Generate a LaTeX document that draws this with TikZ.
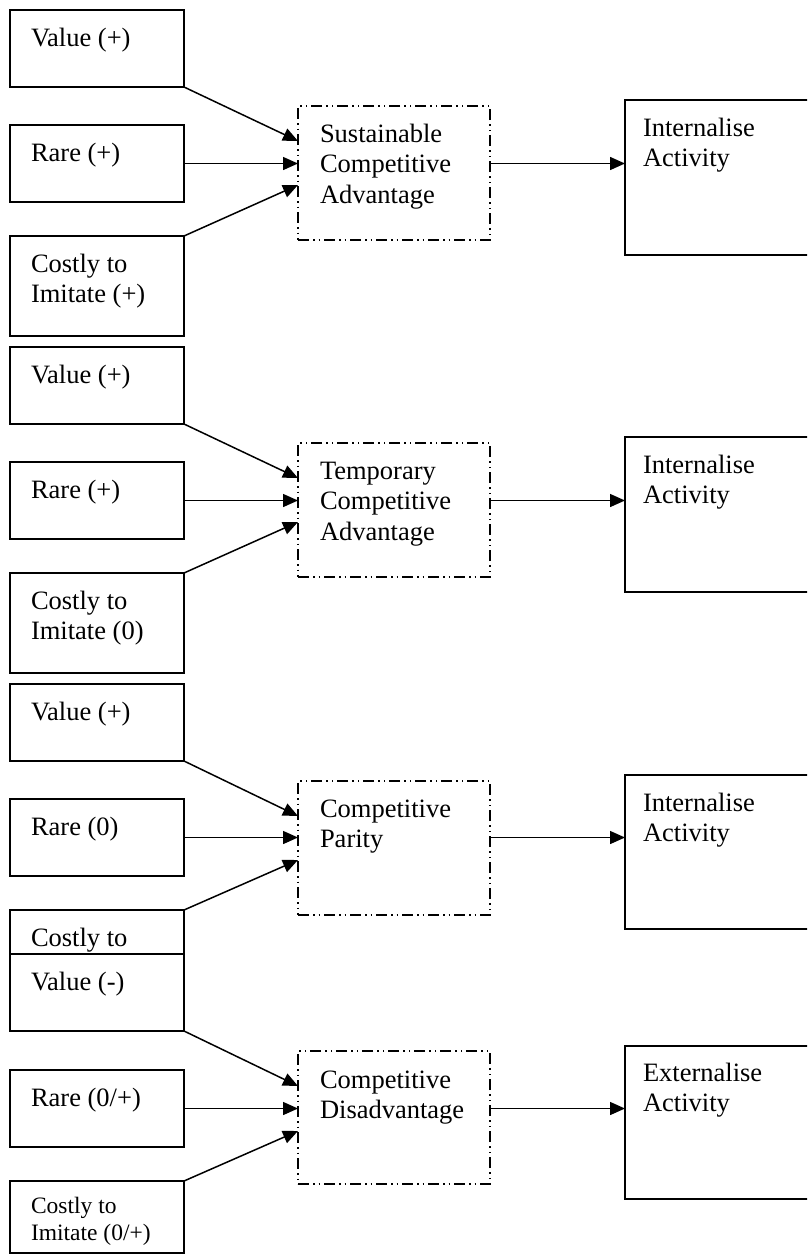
\documentclass[tikz,border=0pt]{standalone}
\usepackage{fontspec}
\setmainfont{Liberation Serif}
\usetikzlibrary{arrows.meta}
\begin{document}
\begin{tikzpicture}[x=1pt,y=-1pt,
  box/.style={draw, line width=1.5pt, fill=white, inner sep=0pt, outer sep=0pt, anchor=north west, minimum width=174pt},
  sbox/.style={box, minimum height=77pt},
  tbox/.style={box, minimum height=100pt},
  dbox/.style={draw, line width=1.4pt, inner sep=0pt, outer sep=0pt, anchor=north west, minimum width=192pt, minimum height=134pt,
    dash pattern=on 11pt off 4pt on 1.5pt off 4pt on 1.5pt off 4pt},
  obox/.style={box, minimum width=187pt, minimum height=155pt},
  txt/.style={anchor=north west, inner sep=0pt, outer sep=0pt, align=left, font=\fontsize{26.5}{30.5}\selectfont},
  stxt/.style={anchor=north west, inner sep=0pt, outer sep=0pt, align=left, font=\fontsize{23.5}{27.5}\selectfont},
  arr/.style={line width=1.5pt, -{Triangle[length=15pt,width=13pt]}}
]
\useasboundingbox (0,0) rectangle (807,1254);
\clip (0,0) rectangle (807,1254);

% ---------- Group 1 ----------
\node[sbox] (v1) at (10,10) {};
\node[sbox] (r1) at (10,125) {};
\node[tbox] (c1) at (10,236) {};
\node[dbox] (d1) at (298,106) {};
\node[obox] (i1) at (625,100) {};
\node[txt] (v1t) at ([xshift=21pt,yshift=-14.65pt]v1.north west) {\strut Value (+)};
\node[txt] (r1t) at ([xshift=21pt,yshift=-14.65pt]r1.north west) {\strut Rare (+)};
\node[txt] (c1t) at ([xshift=21pt,yshift=-14.65pt]c1.north west) {\strut Costly to\\Imitate (+)};
\node[txt] (d1t) at ([xshift=22pt,yshift=-14.65pt]d1.north west) {\strut Sustainable\\Competitive\\Advantage};
\node[txt] (i1t) at ([xshift=18pt,yshift=-14.65pt]i1.north west) {\strut Internalise\\Activity};
\draw[arr] (v1.south east) -- ([yshift=-35pt]d1.north west);
\draw[arr] (r1.east) -- (r1.east -| d1.west);
\draw[arr] (c1.north east) -- ([yshift=-79pt]d1.north west);
\draw[arr] (r1.east -| d1.east) -- (r1.east -| i1.west);

% ---------- Group 2 ----------
\node[sbox] (v2) at (10,347) {};
\node[sbox] (r2) at (10,462) {};
\node[tbox] (c2) at (10,573) {};
\node[dbox] (d2) at (298,443) {};
\node[obox] (i2) at (625,437) {};
\node[txt] (v2t) at ([xshift=21pt,yshift=-14.65pt]v2.north west) {\strut Value (+)};
\node[txt] (r2t) at ([xshift=21pt,yshift=-14.65pt]r2.north west) {\strut Rare (+)};
\node[txt] (c2t) at ([xshift=21pt,yshift=-14.65pt]c2.north west) {\strut Costly to\\Imitate (0)};
\node[txt] (d2t) at ([xshift=22pt,yshift=-14.65pt]d2.north west) {\strut Temporary\\Competitive\\Advantage};
\node[txt] (i2t) at ([xshift=18pt,yshift=-14.65pt]i2.north west) {\strut Internalise\\Activity};
\draw[arr] (v2.south east) -- ([yshift=-35pt]d2.north west);
\draw[arr] (r2.east) -- (r2.east -| d2.west);
\draw[arr] (c2.north east) -- ([yshift=-79pt]d2.north west);
\draw[arr] (r2.east -| d2.east) -- (r2.east -| i2.west);

% ---------- Group 3 ----------
\node[sbox] (v3) at (10,684) {};
\node[sbox] (r3) at (10,799) {};
\node[tbox] (c3) at (10,910) {};
\node[dbox] (d3) at (298,781) {};
\node[obox, minimum height=154pt] (i3) at (625,775) {};
\node[txt] (v3t) at ([xshift=21pt,yshift=-14.65pt]v3.north west) {\strut Value (+)};
\node[txt] (r3t) at ([xshift=21pt,yshift=-14.65pt]r3.north west) {\strut Rare (0)};
\node[txt] (c3t) at ([xshift=21pt,yshift=-14.65pt]c3.north west) {\strut Costly to};
\node[txt] (d3t) at ([xshift=22pt,yshift=-14.65pt]d3.north west) {\strut Competitive\\Parity};
\node[txt] (i3t) at ([xshift=18pt,yshift=-14.65pt]i3.north west) {\strut Internalise\\Activity};
\draw[arr] (v3.south east) -- ([yshift=-35pt]d3.north west);
\draw[arr] (r3.east) -- (r3.east -| d3.west);
\draw[arr] (c3.north east) -- ([yshift=-79pt]d3.north west);
\draw[arr] (r3.east -| d3.east) -- (r3.east -| i3.west);

% ---------- Group 4 ----------
\node[sbox] (v4) at (10,954) {};
\node[sbox] (r4) at (10,1070) {};
\node[box, minimum height=72pt] (c4) at (10,1181) {};
\node[dbox, minimum height=133pt] (d4) at (298,1051) {};
\node[obox, minimum height=153pt] (i4) at (625,1046) {};
\node[txt] (v4t) at ([xshift=21pt,yshift=-14.65pt]v4.north west) {\strut Value (-)};
\node[txt] (r4t) at ([xshift=21pt,yshift=-14.65pt]r4.north west) {\strut Rare (0/+)};
\node[stxt] (c4t) at ([xshift=21pt,yshift=-12.75pt]c4.north west) {\strut Costly to\\Imitate (0/+)};
\node[txt] (d4t) at ([xshift=22pt,yshift=-15.65pt]d4.north west) {\strut Competitive\\Disadvantage};
\node[txt] (i4t) at ([xshift=18pt,yshift=-13.65pt]i4.north west) {\strut Externalise\\Activity};
\draw[arr] (v4.south east) -- ([yshift=-35pt]d4.north west);
\draw[arr] (r4.east) -- (r4.east -| d4.west);
\draw[arr] (c4.north east) -- ([yshift=-80pt]d4.north west);
\draw[arr] (r4.east -| d4.east) -- (r4.east -| i4.west);
\end{tikzpicture}
\end{document}
